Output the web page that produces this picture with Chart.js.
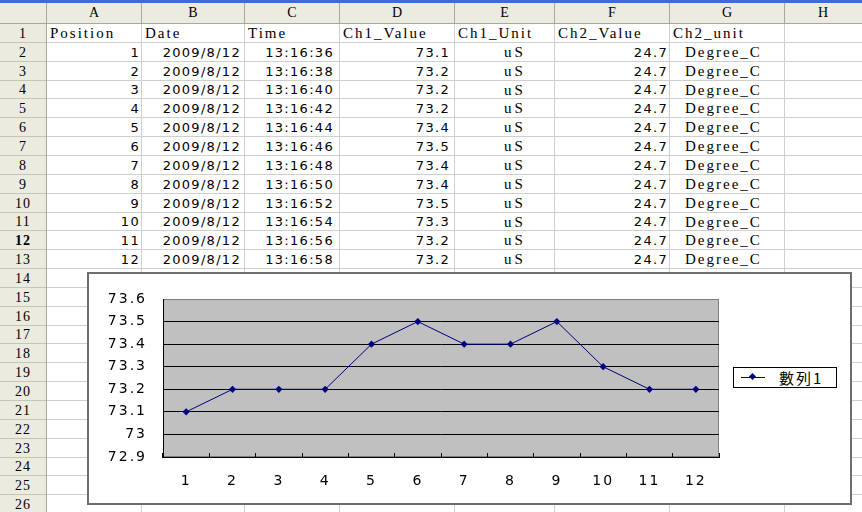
<!DOCTYPE html>
<html><head><meta charset="utf-8">
<script src="https://cdn.jsdelivr.net/npm/chart.js@4.4.1/dist/chart.umd.min.js"></script>
<style>
html,body{margin:0;padding:0;background:#fff;width:862px;height:512px;overflow:hidden;position:relative}
#sheet{position:absolute;left:0;top:0;width:862px;height:512px}
.b{position:absolute}
.t{position:absolute;white-space:nowrap;color:#000}
.hdr{font-family:"Liberation Serif",serif;font-size:14px;letter-spacing:1px}
.num{font-family:"DejaVu Sans",sans-serif;font-size:13px;letter-spacing:1.3px}
.txt{font-family:"Liberation Serif",serif;font-size:15px;letter-spacing:2px}
#chartBox{position:absolute;left:87px;top:272px;width:765px;height:233px;box-sizing:border-box;border:2px solid #6e6e6e;background:#fff}
#chartCanvas{position:absolute;left:0;top:0}
#legend{position:absolute;left:644px;top:93px;width:104px;height:21px;box-sizing:border-box;border:1px solid #000;background:#fff}
#legend .ln{position:absolute;left:7px;top:9px;width:24px;height:1px;background:#000080}
#legend .mk{position:absolute;left:16px;top:6px;width:5px;height:5px;background:#000080;transform:rotate(45deg)}
#legend .lt{position:absolute;left:45px;top:0;line-height:19px;font-family:"Noto Sans CJK TC",sans-serif;font-size:15px;letter-spacing:2px;color:#000}
</style></head>
<body>
<div id="sheet"></div>
<script>
// ---------- data ----------
const columnLetters = ['A','B','C','D','E','F','G','H'];
const headers = ['Position','Date','Time','Ch1_Value','Ch1_Unit','Ch2_Value','Ch2_unit'];
const positions = [1,2,3,4,5,6,7,8,9,10,11,12];
const dates = ['2009/8/12','2009/8/12','2009/8/12','2009/8/12','2009/8/12','2009/8/12','2009/8/12','2009/8/12','2009/8/12','2009/8/12','2009/8/12','2009/8/12'];
const times = ['13:16:36','13:16:38','13:16:40','13:16:42','13:16:44','13:16:46','13:16:48','13:16:50','13:16:52','13:16:54','13:16:56','13:16:58'];
const ch1Values = [73.1,73.2,73.2,73.2,73.4,73.5,73.4,73.4,73.5,73.3,73.2,73.2];
const ch1Units = ['uS','uS','uS','uS','uS','uS','uS','uS','uS','uS','uS','uS'];
const ch2Values = [24.7,24.7,24.7,24.7,24.7,24.7,24.7,24.7,24.7,24.7,24.7,24.7];
const ch2Units = ['Degree_C','Degree_C','Degree_C','Degree_C','Degree_C','Degree_C','Degree_C','Degree_C','Degree_C','Degree_C','Degree_C','Degree_C'];
const seriesName = '數列1';
const yTickValues = [72.9,73,73.1,73.2,73.3,73.4,73.5,73.6];
const yTickLabels = ['72.9','73','73.1','73.2','73.3','73.4','73.5','73.6'];

// ---------- sheet layout ----------
const colEdges = [0,47,142,245,340,455,555,670,785,862];
const headTop = 3, headBottom = 24, rowH = 18.85, nRows = 26;
const sheet = document.getElementById('sheet');
function rect(x,y,w,h,bg){const d=document.createElement('div');d.className='b';d.style.cssText=`left:${x}px;top:${y}px;width:${w}px;height:${h}px;background:${bg}`;sheet.appendChild(d);return d;}
function txt(s,x,y,w,h,align,cls,extra){const d=document.createElement('div');d.className='t '+cls;d.textContent=s;d.style.cssText=`left:${x}px;top:${y}px;width:${w}px;height:${h}px;line-height:${h}px;text-align:${align};`+(extra||'');sheet.appendChild(d);return d;}
const rowTop = i => Math.round(headBottom + (i-1)*rowH);

// backgrounds
rect(0,0,862,3,'#3a6fd0');
rect(0,headTop,862,headBottom-headTop,'#ecebe0');
rect(0,headBottom,colEdges[1],512-headBottom,'#ecebe0');
// horizontal lines
for(let i=1;i<=nRows;i++){const y=rowTop(i+1)-1;rect(0,y,colEdges[1],1,'#c9c5b4');rect(colEdges[1],y,862-colEdges[1],1,'#cfcfcf');}
rect(0,headBottom-1,862,1,'#aca899');
// vertical lines
for(let c=1;c<colEdges.length-1;c++){const x=colEdges[c]-1;rect(x,headTop,1,headBottom-headTop,'#aca899');rect(x,headBottom,1,512-headBottom,c===1?'#aca899':'#cfcfcf');}
// column letters
columnLetters.forEach((L,c)=>txt(L,colEdges[c+1],headTop,colEdges[c+2]-colEdges[c+1],headBottom-headTop-1,'center','hdr'));
// row numbers
for(let i=1;i<=nRows;i++){txt(String(i),0,rowTop(i),colEdges[1]-1,rowTop(i+1)-rowTop(i),'center','hdr',i===12?'font-weight:bold;':'');}
// header row
headers.forEach((h,c)=>txt(h,colEdges[c+1]+3,rowTop(1),colEdges[c+2]-colEdges[c+1]-3,rowTop(2)-rowTop(1),'left','txt'));
// data rows
for(let r=0;r<positions.length;r++){
  const y=rowTop(r+2), h=rowTop(r+3)-y;
  txt(String(positions[r]),colEdges[1],y,colEdges[2]-colEdges[1]-2,h,'right','num');
  txt(dates[r],colEdges[2],y,colEdges[3]-colEdges[2]-4,h,'right','num');
  txt(times[r],colEdges[3],y,colEdges[4]-colEdges[3]-6,h,'right','num');
  txt(ch1Values[r].toFixed(1),colEdges[4],y,colEdges[5]-colEdges[4]-5,h,'right','num');
  txt(ch1Units[r],colEdges[5]+49,y,50,h,'left','txt','letter-spacing:3px;');
  txt(ch2Values[r].toFixed(1),colEdges[6],y,colEdges[7]-colEdges[6]-2,h,'right','num');
  txt(ch2Units[r],colEdges[7]+15,y,100,h,'left','txt');
}

// ---------- chart ----------
const box=document.createElement('div');box.id='chartBox';document.body.appendChild(box);
const cv=document.createElement('canvas');cv.id='chartCanvas';cv.width=761;cv.height=229;box.appendChild(cv);
const lg=document.createElement('div');lg.id='legend';
lg.innerHTML='<div class="ln"></div><div class="mk"></div><div class="lt"></div>';
lg.querySelector('.lt').textContent=seriesName;box.appendChild(lg);

const plotBg={id:'plotBg',beforeDraw(ch){const {ctx,chartArea:a}=ch;ctx.save();ctx.fillStyle='#c0c0c0';ctx.fillRect(a.left,a.top,a.right-a.left,a.bottom-a.top);ctx.strokeStyle='#808080';ctx.lineWidth=1;ctx.strokeRect(a.left+0.5,a.top+0.5,a.right-a.left-1,a.bottom-a.top-1);ctx.restore();ctx.letterSpacing='2px';}};
const labelFont={family:'"DejaVu Sans", sans-serif',size:14};
new Chart(cv.getContext('2d'),{
  type:'line',
  data:{labels:positions.map(String),datasets:[{label:seriesName,data:ch1Values,borderColor:'#000080',backgroundColor:'#000080',borderWidth:1,pointStyle:'rectRot',pointRadius:3.6,pointBorderWidth:0,pointBackgroundColor:'#000080',tension:0,fill:false}]},
  options:{
    responsive:false,animation:false,devicePixelRatio:1,
    layout:{padding:{left:0,top:25,right:131,bottom:0}},
    plugins:{legend:{display:false},tooltip:{enabled:false}},
    scales:{
      x:{offset:true,
         grid:{offset:true,drawOnChartArea:false,drawTicks:true,tickLength:-4,color:'#000',lineWidth:1},
         border:{display:true,color:'#000',width:1},
         ticks:{padding:20,color:'#000',font:labelFont,maxRotation:0,autoSkip:false},
         afterFit(s){s.height=46;}},
      y:{min:72.9,max:73.6,
         afterBuildTicks(s){s.ticks=yTickValues.map(v=>({value:v}));},
         grid:{drawTicks:false,lineWidth:1,color:c=>c.index===yTickValues.length-1?'#808080':'#000'},
         border:{display:true,color:'#000',width:1},
         ticks:{padding:16,color:'#000',font:labelFont,callback:(v,i)=>yTickLabels[i]},
         afterFit(s){s.width=74;}}
    }
  },
  plugins:[plotBg]
});
</script>
</body></html>
